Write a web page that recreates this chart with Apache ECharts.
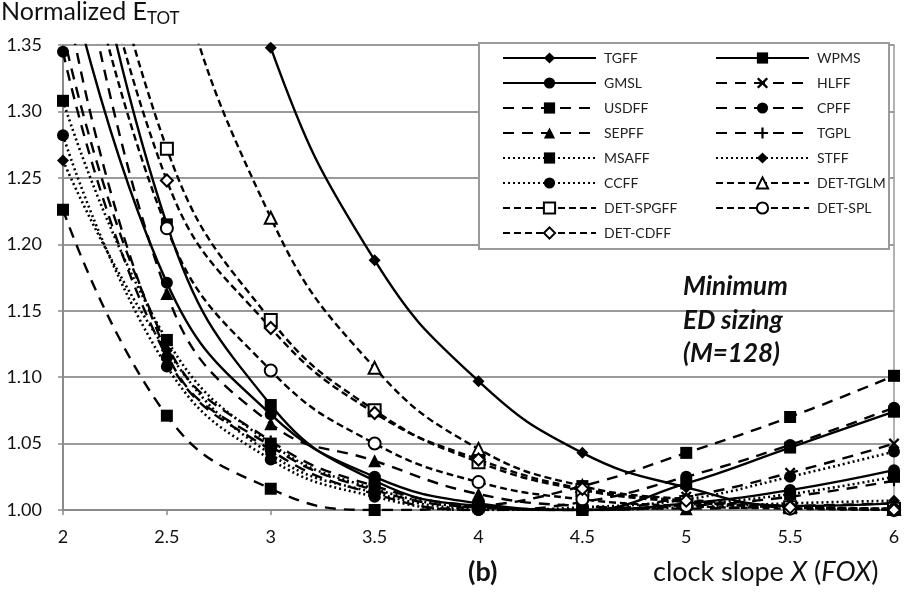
<!DOCTYPE html>
<html>
<head>
<meta charset="utf-8">
<script src="https://cdn.jsdelivr.net/npm/echarts@6/dist/echarts.min.js"></script>
<style>
  html, body { margin: 0; padding: 0; background: #fff; }
  #chart { width: 906px; height: 592px; }
</style>
</head>
<body>
<div id="chart"></div>
<script>
// Clock slope X (FOX) sample points
const clockSlope = [2, 2.5, 3, 3.5, 4, 4.5, 5, 5.5, 6];

// Normalized total energy per flip-flop / latch style
const TGFF      = [2.10, 1.62, 1.348, 1.188, 1.097, 1.043, 1.017, 1.003, 1.005];
const WPMS      = [1.55, 1.215, 1.079, 1.022, 1.003, 1.000, 1.020, 1.047, 1.074];
const GMSL      = [1.42, 1.171, 1.072, 1.025, 1.005, 1.000, 1.005, 1.015, 1.030];
const HLFF      = [1.40, 1.118, 1.048, 1.015, 1.002, 1.000, 1.010, 1.028, 1.050];
const USDFF     = [1.226, 1.071, 1.016, 1.000, 1.003, 1.018, 1.043, 1.070, 1.101];
const CPFF      = [1.345, 1.115, 1.045, 1.012, 1.000, 1.006, 1.025, 1.049, 1.077];
const SEPFF     = [1.50, 1.163, 1.065, 1.037, 1.012, 1.003, 1.001, 1.003, 1.005];
const TGPL      = [1.36, 1.124, 1.052, 1.018, 1.003, 1.000, 1.003, 1.010, 1.022];
const MSAFF     = [1.308, 1.128, 1.050, 1.016, 1.002, 1.000, 1.004, 1.012, 1.025];
const STFF      = [1.263, 1.120, 1.042, 1.013, 1.001, 1.000, 1.002, 1.005, 1.007];
const CCFF      = [1.282, 1.108, 1.038, 1.010, 1.000, 1.002, 1.008, 1.025, 1.044];
const DET_TGLM  = [1.85, 1.44, 1.220, 1.107, 1.046, 1.018, 1.008, 1.003, 1.001];
const DET_SPGFF = [1.58, 1.272, 1.143, 1.075, 1.036, 1.015, 1.006, 1.002, 1.001];
const DET_SPL   = [1.50, 1.212, 1.105, 1.050, 1.021, 1.008, 1.003, 1.001, 1.000];
const DET_CDFF  = [1.55, 1.248, 1.137, 1.073, 1.038, 1.016, 1.007, 1.002, 1.000];

const yTickLabels = ['1.00', '1.05', '1.10', '1.15', '1.20', '1.25', '1.30', '1.35'];

const FONT = 'Lato, "Open Sans", sans-serif';
const INK = '#000';

// line patterns
const SOLID = 'solid';
const LONG_DASH = [11, 8];
const DOTTED = [2, 3];
const SHORT_DASH = [7, 4];

// custom marker shapes
const PLUS = 'path://M4,0 L6,0 L6,4 L10,4 L10,6 L6,6 L6,10 L4,10 L4,6 L0,6 L0,4 L4,4 Z';
const CROSS = 'path://M1.5,0 L5,3.5 L8.5,0 L10,1.5 L6.5,5 L10,8.5 L8.5,10 L5,6.5 L1.5,10 L0,8.5 L3.5,5 L0,1.5 Z';

const styles = [
  { name: 'TGFF',      data: TGFF,      line: SOLID,      symbol: 'diamond',       size: 12 },
  { name: 'WPMS',      data: WPMS,      line: SOLID,      symbol: 'rect',          size: 12 },
  { name: 'GMSL',      data: GMSL,      line: SOLID,      symbol: 'circle',        size: 12 },
  { name: 'HLFF',      data: HLFF,      line: LONG_DASH,  symbol: CROSS,           size: 11 },
  { name: 'USDFF',     data: USDFF,     line: LONG_DASH,  symbol: 'rect',          size: 12 },
  { name: 'CPFF',      data: CPFF,      line: LONG_DASH,  symbol: 'circle',        size: 12 },
  { name: 'SEPFF',     data: SEPFF,     line: LONG_DASH,  symbol: 'triangle',      size: 13 },
  { name: 'TGPL',      data: TGPL,      line: LONG_DASH,  symbol: PLUS,            size: 11 },
  { name: 'MSAFF',     data: MSAFF,     line: DOTTED,     symbol: 'rect',          size: 12 },
  { name: 'STFF',      data: STFF,      line: DOTTED,     symbol: 'diamond',       size: 12 },
  { name: 'CCFF',      data: CCFF,      line: DOTTED,     symbol: 'circle',        size: 12 },
  { name: 'DET-TGLM',  data: DET_TGLM,  line: SHORT_DASH, symbol: 'emptyTriangle', size: 12 },
  { name: 'DET-SPGFF', data: DET_SPGFF, line: SHORT_DASH, symbol: 'emptyRect',     size: 12 },
  { name: 'DET-SPL',   data: DET_SPL,   line: SHORT_DASH, symbol: 'emptyCircle',   size: 12 },
  { name: 'DET-CDFF',  data: DET_CDFF,  line: SHORT_DASH, symbol: 'emptyDiamond',  size: 12 }
];

const leftColumn = ['TGFF', 'GMSL', 'USDFF', 'SEPFF', 'MSAFF', 'CCFF', 'DET-SPGFF', 'DET-CDFF'];
const rightColumn = ['WPMS', 'HLFF', 'CPFF', 'TGPL', 'STFF', 'DET-TGLM', 'DET-SPL'];

const series = styles.map(s => ({
  name: s.name,
  type: 'line',
  smooth: 0.45,
  clip: true,
  data: clockSlope.map((x, i) => [x, s.data[i]]),
  symbol: s.symbol,
  symbolSize: s.size,
  showAllSymbol: true,
  lineStyle: { color: INK, width: s.line === DOTTED ? 2.6 : 2.4, type: s.line },
  itemStyle: { color: INK, borderColor: INK, borderWidth: s.symbol.startsWith('empty') ? 1.8 : 0 },
  emphasis: { disabled: true },
  z: 3
}));

const legendCommon = {
  orient: 'vertical',
  top: 46,
  itemWidth: 93,
  itemHeight: 14,
  itemGap: 11,
  selectedMode: false,
  z: 10,
  textStyle: { fontFamily: FONT, fontSize: 14, color: '#222', padding: [0, 0, 0, 3] }
};

const chart = echarts.init(document.getElementById('chart'), null, { renderer: 'canvas' });
chart.setOption({
  animation: false,
  backgroundColor: '#fff',
  grid: {
    left: 63, right: 12, top: 45, bottom: 82,
    show: true, borderColor: '#9a9a9a', borderWidth: 1.5
  },
  xAxis: {
    type: 'value',
    min: 2, max: 6, interval: 0.5,
    axisLine: { lineStyle: { color: '#8a8a8a', width: 2 } },
    axisTick: { show: true, length: 5, lineStyle: { color: '#8a8a8a', width: 1.5 } },
    splitLine: { show: false },
    axisLabel: { fontFamily: FONT, fontSize: 18, color: '#111', margin: 18 }
  },
  yAxis: {
    type: 'value',
    min: 1.0, max: 1.35, interval: 0.05,
    axisLine: { show: true, lineStyle: { color: '#8a8a8a', width: 2 } },
    axisTick: { show: true, length: 5, lineStyle: { color: '#8a8a8a', width: 1.5 } },
    splitLine: { lineStyle: { color: '#9a9a9a', width: 2 } },
    axisLabel: {
      fontFamily: FONT, fontSize: 18, color: '#111', margin: 21,
      formatter: v => yTickLabels[Math.round((v - 1.0) / 0.05)]
    }
  },
  legend: [
    Object.assign({}, legendCommon, { left: 497, data: leftColumn }),
    Object.assign({}, legendCommon, { left: 710, data: rightColumn })
  ],
  graphic: [
    {
      type: 'rect', left: 478, top: 42, z: 5,
      shape: { width: 410, height: 206 },
      style: { fill: '#fff', stroke: '#9a9a9a', lineWidth: 2 }
    },
    {
      type: 'text', left: 1, top: -1, z: 10,
      style: {
        text: 'Normalized E{sub|TOT}',
        font: '25px ' + FONT, fill: '#111',
        rich: { sub: { fontFamily: FONT, fontSize: 17, padding: [14, 0, 0, 0], fill: '#111' } }
      }
    },
    {
      type: 'text', left: 683, top: 270, z: 10,
      style: {
        text: 'Minimum\nED sizing\n(M=128)',
        font: 'italic bold 26px ' + FONT, fill: '#111',
        align: 'center', lineHeight: 33.5
      }
    },
    {
      type: 'text', left: 468, top: 559, z: 10,
      style: { text: '(b)', font: 'bold 27px ' + FONT, fill: '#111' }
    },
    {
      type: 'text', left: 653, top: 559, z: 10,
      style: {
        text: 'clock slope {i|X} ({i|FOX})',
        font: '27px ' + FONT, fill: '#111',
        rich: { i: { fontFamily: FONT, fontSize: 27, fontStyle: 'italic', fill: '#111' } }
      }
    }
  ],
  series: series
});
</script>
</body>
</html>
